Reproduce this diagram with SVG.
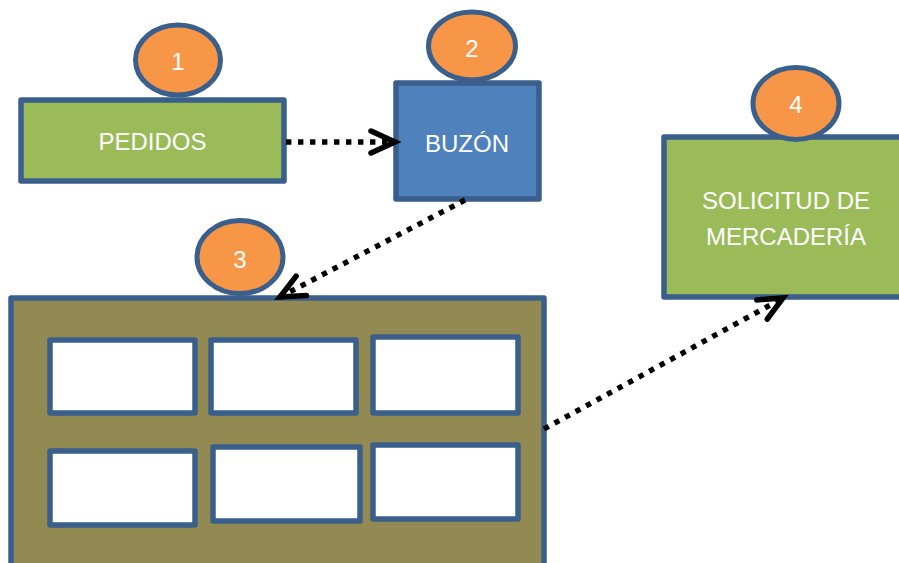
<svg xmlns="http://www.w3.org/2000/svg" width="899" height="563" viewBox="0 0 899 563">
  <style>
    .box { stroke: #3A5F8C; stroke-width: 5.5; stroke-linejoin: round; }
    .green { fill: #9BBB59; }
    .blue { fill: #4F81BD; }
    .olive { fill: #938953; }
    .cell { fill: #FFFFFF; stroke: #3A5F8C; stroke-width: 5.5; stroke-linejoin: round; }
    .badge { fill: #F79646; stroke: #3A5F8C; stroke-width: 5; }
    .label { fill: #FFFFFF; font-family: "Liberation Sans", Arial, sans-serif; font-size: 24px; text-anchor: middle; }
    .flow { fill: none; stroke: #000000; stroke-width: 5.4; stroke-dasharray: 5.4 6.6; marker-end: url(#chevron); }
  </style>
  <defs>
    <marker id="chevron" markerUnits="userSpaceOnUse" viewBox="-30 -16 36 32" refX="0" refY="0" markerWidth="36" markerHeight="32" orient="auto" overflow="visible">
      <path d="M -24,-11 L 0,0 L -24,11" fill="none" stroke="#000000" stroke-width="5.5" stroke-linecap="round" stroke-linejoin="miter"/>
    </marker>
  </defs>

  <rect width="899" height="563" fill="#FFFFFF"/>

  <!-- 1: orders -->
  <g id="pedidos">
    <rect class="box green" x="21" y="100" width="263" height="81"/>
    <ellipse class="badge" cx="178" cy="60" rx="42.5" ry="35"/>
    <text class="label" x="178" y="70">1</text>
    <text class="label" x="152.5" y="150">PEDIDOS</text>
  </g>

  <!-- 2: mailbox -->
  <g id="buzon">
    <rect class="box blue" x="396" y="83" width="143" height="116"/>
    <ellipse class="badge" cx="472" cy="46" rx="43.5" ry="34"/>
    <text class="label" x="472" y="57">2</text>
    <text class="label" x="467" y="152">BUZÓN</text>
  </g>

  <!-- 3: shelf with six slots -->
  <g id="estanteria">
    <rect class="box olive" x="11" y="298" width="533" height="290"/>
    <rect class="cell" x="50" y="340" width="145" height="73"/>
    <rect class="cell" x="211" y="340" width="145" height="73"/>
    <rect class="cell" x="373" y="337" width="145" height="76"/>
    <rect class="cell" x="50" y="451" width="145" height="74"/>
    <rect class="cell" x="213" y="447" width="147" height="74"/>
    <rect class="cell" x="373" y="445" width="145" height="74"/>
    <ellipse class="badge" cx="240" cy="257" rx="43" ry="36.5"/>
    <text class="label" x="240" y="268">3</text>
  </g>

  <!-- 4: goods request -->
  <g id="solicitud">
    <rect class="box green" x="664" y="137" width="244" height="160"/>
    <ellipse class="badge" cx="796" cy="103.5" rx="43" ry="36"/>
    <text class="label" x="796" y="113">4</text>
    <text class="label" x="786" y="209">SOLICITUD DE</text>
    <text class="label" x="786" y="245">MERCADERÍA</text>
  </g>

  <g id="conectores">
    <path class="flow" d="M 286,142 L 395,142"/>
    <path class="flow" d="M 465,200 L 280,297"/>
    <path class="flow" d="M 544,429 L 783,298"/>
  </g>
</svg>
